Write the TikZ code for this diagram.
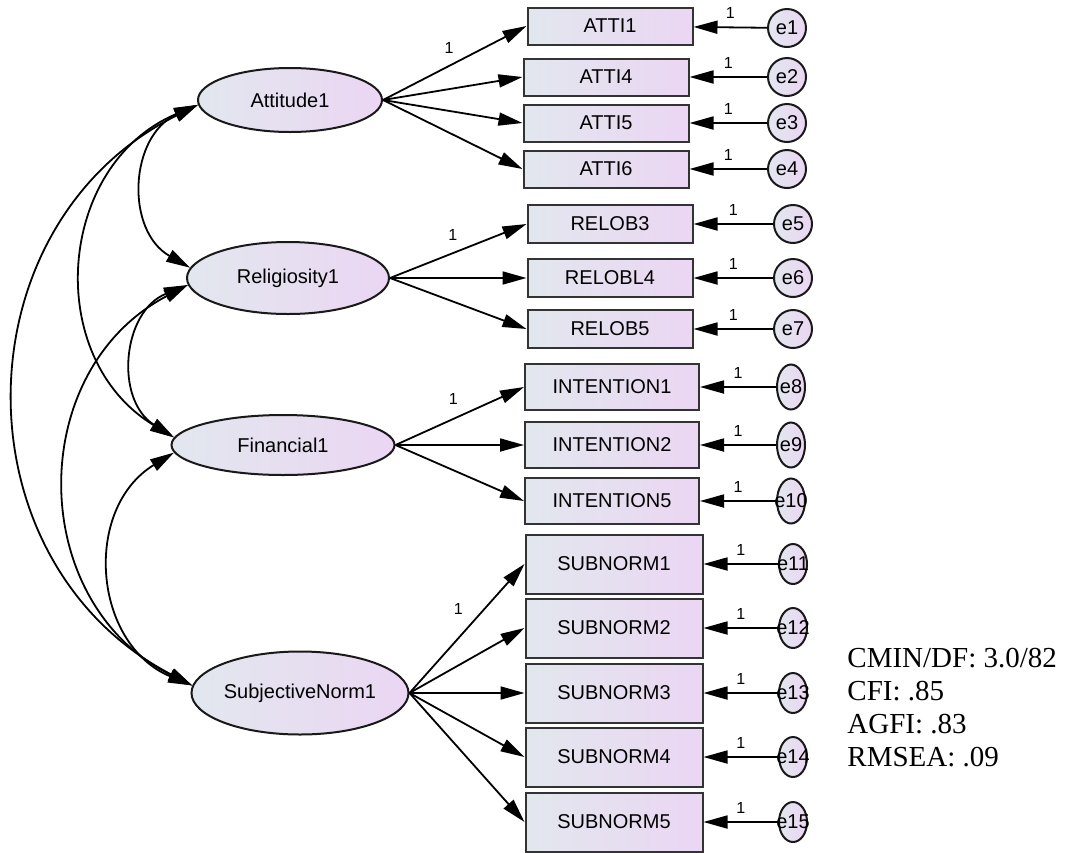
\documentclass[tikz,border=0pt]{standalone}
\usepackage{fontspec}
\setmainfont{Liberation Sans}
\newfontfamily\fitfont{Liberation Serif}
\usepackage{tikz}
\usetikzlibrary{arrows.meta,shapes.geometric}
\definecolor{amosL}{RGB}{226,231,238}
\definecolor{amosR}{RGB}{235,214,243}
\tikzset{
  sem/latent/.style={draw=black!90, line width=1pt, ellipse, left color=amosL, right color=amosR, inner sep=0pt, font=\fontsize{10}{12}\selectfont},
  sem/observed/.style={draw=black!80, line width=1pt, rectangle, left color=amosL, right color=amosR, inner sep=0pt, font=\fontsize{10}{12}\selectfont},
  sem/error/.style={draw=black!90, line width=1pt, ellipse, left color=amosL, right color=amosR, inner sep=0pt, font=\fontsize{10}{12}\selectfont},
  sem/path/.style={line width=0.9pt, -{Triangle[length=12pt,width=6.5pt]}},
  sem/cov/.style={line width=0.9pt, {Triangle[length=12pt,width=6.5pt]}-{Triangle[length=12pt,width=6.5pt]}, bend right=63, looseness=1.18},
  sem/one/.style={font=\fontsize{8}{9}\selectfont, inner sep=1pt},
  sem/fit/.style={font=\fitfont\fontsize{14.5}{16.5}\selectfont, align=left, anchor=north west, inner sep=0pt}
}
\newcommand{\errtxt}[1]{\makebox[0pt]{#1}}

\begin{document}
\begin{tikzpicture}[x=0.5pt, y=-0.5pt]
  \useasboundingbox (0,0) rectangle (1076,852);
  % latent factors
  \node[sem/latent, minimum width=92pt, minimum height=32pt] (att) at (290,100) {Attitude1};
  \node[sem/latent, minimum width=101pt, minimum height=36pt] (rel) at (288,278) {Religiosity1};
  \node[sem/latent, minimum width=111.5pt, minimum height=30pt] (fin) at (283,445) {Financial1};
  \node[sem/latent, minimum width=108.5pt, minimum height=41.5pt] (sub) at (300,693) {SubjectiveNorm1};
  % observed indicators
  \tikzset{every node/.append style={minimum width=82.5pt, minimum height=18.5pt}}
  \node[sem/observed] (atti1) at (610,26) {ATTI1};
  \node[sem/observed] (atti4) at (606,77) {ATTI4};
  \node[sem/observed] (atti5) at (606,123) {ATTI5};
  \node[sem/observed] (atti6) at (606,169) {ATTI6};
  \node[sem/observed, minimum height=19pt] (relob3) at (610,224) {RELOB3};
  \node[sem/observed, minimum height=19pt] (relobl4) at (610,278) {RELOBL4};
  \node[sem/observed, minimum height=19pt] (relob5) at (610,329) {RELOB5};
  \node[sem/observed, minimum width=87pt, minimum height=23pt] (int1) at (612,387) {INTENTION1};
  \node[sem/observed, minimum width=87pt, minimum height=23pt] (int2) at (612,445) {INTENTION2};
  \node[sem/observed, minimum width=87pt, minimum height=23pt] (int5) at (612,501) {INTENTION5};
  \node[sem/observed, minimum width=88.5pt, minimum height=29.5pt] (sn1) at (614,564) {SUBNORM1};
  \node[sem/observed, minimum width=88.5pt, minimum height=29.5pt] (sn2) at (614,628) {SUBNORM2};
  \node[sem/observed, minimum width=88.5pt, minimum height=29.5pt] (sn3) at (614,693) {SUBNORM3};
  \node[sem/observed, minimum width=88.5pt, minimum height=29.5pt] (sn4) at (614,757) {SUBNORM4};
  \node[sem/observed, minimum width=88.5pt, minimum height=29.5pt] (sn5) at (614,822) {SUBNORM5};
  % error terms
  \tikzset{every node/.append style={minimum width=19pt, minimum height=19pt}}
  \node[sem/error] (e1) at (787,28) {\errtxt{e1}};
  \node[sem/error] (e2) at (787,77) {\errtxt{e2}};
  \node[sem/error] (e3) at (787,123) {\errtxt{e3}};
  \node[sem/error] (e4) at (787,169) {\errtxt{e4}};
  \node[sem/error] (e5) at (793,224) {\errtxt{e5}};
  \node[sem/error] (e6) at (793,278) {\errtxt{e6}};
  \node[sem/error] (e7) at (793,329) {\errtxt{e7}};
  \node[sem/error, minimum width=14pt, minimum height=22.5pt] (e8) at (791,387) {\errtxt{e8}};
  \node[sem/error, minimum width=14pt, minimum height=22.5pt] (e9) at (791,445) {\errtxt{e9}};
  \node[sem/error, minimum width=14pt, minimum height=22.5pt] (e10) at (791,501) {\errtxt{e10}};
  \node[sem/error, minimum width=14pt, minimum height=20pt] (e11) at (793,564) {\errtxt{e11}};
  \node[sem/error, minimum width=14pt, minimum height=20pt] (e12) at (793,628) {\errtxt{e12}};
  \node[sem/error, minimum width=14pt, minimum height=20pt] (e13) at (793,693) {\errtxt{e13}};
  \node[sem/error, minimum width=14pt, minimum height=20pt] (e14) at (793,757) {\errtxt{e14}};
  \node[sem/error, minimum width=14pt, minimum height=20pt] (e15) at (793,822) {\errtxt{e15}};
  \tikzset{every node/.append style={minimum width=0pt, minimum height=0pt}}
  % loadings
  \draw[sem/path] (att.east) -- node[sem/one, pos=0.46, above=5pt] {1} (atti1.west);
  \foreach \b in {atti4,atti5,atti6} \draw[sem/path] (att.east) -- (\b.west);
  \draw[sem/path] (rel.east) -- node[sem/one, pos=0.46, above=5pt] {1} (relob3.west);
  \foreach \b in {relobl4,relob5} \draw[sem/path] (rel.east) -- (\b.west);
  \draw[sem/path] (fin.east) -- node[sem/one, pos=0.45, above=6pt] {1} (int1.west);
  \foreach \b in {int2,int5} \draw[sem/path] (fin.east) -- (\b.west);
  \draw[sem/path] (sub.east) -- node[sem/one, pos=0.54, above left=3pt] {1} (sn1.west);
  \foreach \b in {sn2,sn3,sn4,sn5} \draw[sem/path] (sub.east) -- (\b.west);
  % residuals
  \foreach \e/\b in {e1/atti1,e2/atti4,e3/atti5,e4/atti6,e5/relob3,e6/relobl4,e7/relob5,e8/int1,e9/int2,e10/int5,e11/sn1,e12/sn2,e13/sn3,e14/sn4,e15/sn5}
    \draw[sem/path] (\e) -- node[sem/one, pos=0.5, above=3pt] {1} (\b);
  % covariances
  \draw[sem/cov] (att.183) to (rel.174);
  \draw[sem/cov] (att.183) to (fin.176);
  \draw[sem/cov] (att.183) to (sub.176);
  \draw[sem/cov] (rel.184) to (fin.176);
  \draw[sem/cov] (rel.184) to (sub.176);
  \draw[sem/cov] (fin.184) to (sub.176);
  % fit indices
  \node[sem/fit] (fit) at (847,648) {CMIN/DF: 3.0/82\\CFI: .85\\AGFI: .83\\RMSEA: .09};
\end{tikzpicture}
\end{document}
